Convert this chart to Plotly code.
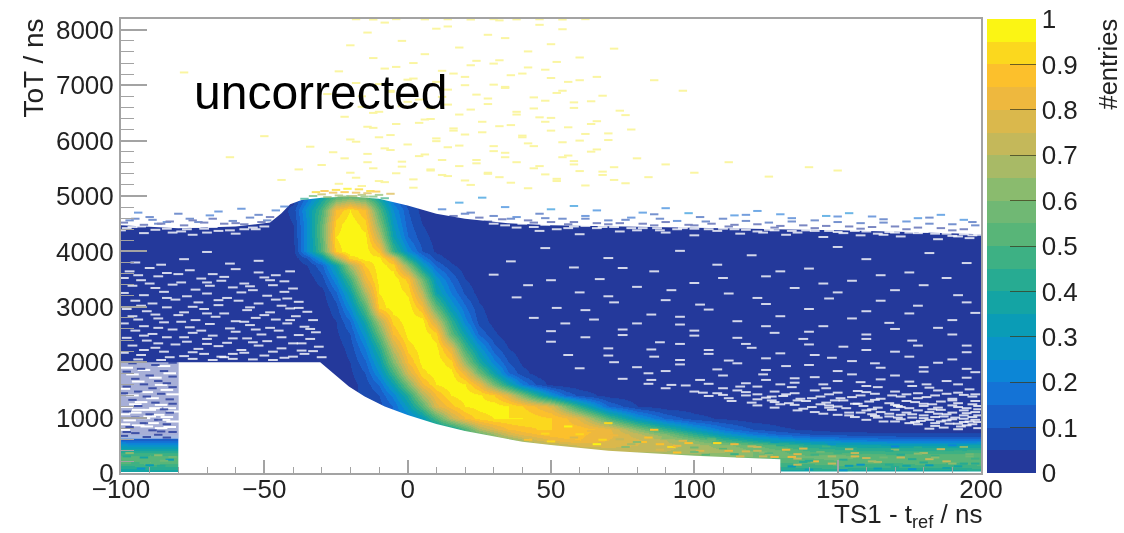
import plotly.graph_objects as go

tot_bins = [0,100,200,300,400,500,600,700,800,1000,1200,1400,1600,1800,2000,2250,2500,2750,3000,3250,3500,3750,3875,4000,4250,4500,4750,5000]
ts_bins = [-100,-90,-80,-60,-45,
           -40,-35,-30,-25,-20,-15,-10,-5,0,5,10,15,20,25,30,35,40,45,50,55,60,
           70,80,90,100,110,120,130,140,150,160,170,180,190,200]

# percent of maximum
r0000 = [32,33,34,34,34, 40,40,40,40,40,40,40,40,40,40,40,40,40,40,40,40,40,40,40,40,40, 40,40,40,40,40,40,34,34,34,32,32,32,32,34]
r0100 = [42,44,44,44,44, 50,50,50,50,50,50,50,50,50,50,50,50,50,50,50,50,50,50,50,50,50, 55,55,55,55,50,48,44,46,48,46,46,46,46,48]
r0200 = [52,55,52,52,52, 55,55,55,55,55,55,55,55,55,55,55,55,55,55,55,55,55,55,55,55,55, 58,58,58,58,55,52,50,52,54,52,50,54,50,54]
r0300 = [50,52,50,50,50, 60,60,60,60,60,60,60,60,60,60,60,60,60,60,60,60,60,60,60,60,60, 62,62,62,62,62,60,56,56,58,54,52,54,54,54]
r0400 = [42,42,42,42,42, 70,70,70,70,70,70,70,70,70,70,70,70,70,70,70,70,70,70,70,70,70, 70,72,70,68,66,60,56,50,48,46,46,46,46,48]
r0500 = [28,26,26,26,26, 65,65,65,65,65,65,65,65,65,65,65,65,65,65,65,65,65,65,68,72,76, 78,75,72,68,62,56,50,42,38,36,34,34,34,36]
r0600 = [15,14,14,14,14, 60,60,60,60,60,60,60,60,60,60,60,60,60,60,60,60,68,75,80,84,85, 80,76,70,60,48,38,30,25,22,20,18,17,17,18]
r0700 = [4,4,4,4,4, 50,50,50,50,50,50,50,50,50,50,50,50,50,55,65,75,82,85,88,88,86, 82,72,60,44,30,20,14,10,8,7,6,6,6,6]
r0800 = [2,2,2,2,2, 30,30,30,30,30,30,30,30,30,30,30,35,50,68,78,85,88,90,90,88,88, 82,62,45,30,18,10,6,4,2,2,2,2,2,2]
r1000 = [2,2,2,2,2, 15,15,15,15,15,15,15,15,20,30,50,72,85,92,95,95,95,92,90,86,78, 50,28,14,7,4,2,2,2,2,2,2,2,2,2]
r1200 = [2,2,2,2,2, 8,8,8,8,8,8,8,15,32,52,78,88,95,97,98,95,90,84,78,60,42, 15,5,2,2,2,2,2,2,2,2,2,2,2,2]
r1400 = [2,2,2,2,2, 5,5,5,5,5,5,10,22,42,68,85,95,98,96,90,78,60,42,27,15,8, 3,2,2,2,2,2,2,2,2,2,2,2,2,2]
r1600 = [2,2,2,2,2, 3,3,3,3,3,7,16,34,60,84,95,99,95,82,58,38,20,9,3,2,2, 2,2,2,2,2,2,2,2,2,2,2,2,2,2]
r1800 = [2,2,2,2,2, 2,2,2,2,4,10,25,48,76,93,98,97,82,58,35,16,7,3,2,2,2, 2,2,2,2,2,2,2,2,2,2,2,2,2,2]
r2000 = [2,2,2,2,2, 2,2,2,2,5,14,32,60,85,97,98,92,65,40,22,10,4,2,2,2,2, 2,2,2,2,2,2,2,2,2,2,2,2,2,2]
r2250 = [2,2,2,2,2, 2,2,2,2,7,20,42,72,92,98,97,80,48,28,12,5,2,2,2,2,2, 2,2,2,2,2,2,2,2,2,2,2,2,2,2]
r2500 = [2,2,2,2,2, 2,2,2,4,10,28,55,85,97,99,92,55,34,14,6,2,2,2,2,2,2, 2,2,2,2,2,2,2,2,2,2,2,2,2,2]
r2750 = [2,2,2,2,2, 2,2,2,5,15,38,68,92,98,98,75,45,22,8,3,2,2,2,2,2,2, 2,2,2,2,2,2,2,2,2,2,2,2,2,2]
r3000 = [2,2,2,2,2, 2,2,2,8,25,52,92,98,98,85,55,30,16,6,2,2,2,2,2,2,2, 2,2,2,2,2,2,2,2,2,2,2,2,2,2]
r3250 = [2,2,2,2,2, 2,2,3,14,35,68,95,99,94,72,36,20,9,3,2,2,2,2,2,2,2, 2,2,2,2,2,2,2,2,2,2,2,2,2,2]
r3500 = [2,2,2,2,2, 2,2,8,24,48,82,97,99,88,58,28,14,5,2,2,2,2,2,2,2,2, 2,2,2,2,2,2,2,2,2,2,2,2,2,2]
r3750 = [2,2,2,2,2, 2,5,14,36,68,90,98,92,62,32,14,6,2,2,2,2,2,2,2,2,2, 2,2,2,2,2,2,2,2,2,2,2,2,2,2]
r3875 = [2,2,2,2,2, 2,10,30,65,92,97,97,80,42,20,8,3,2,2,2,2,2,2,2,2,2, 2,2,2,2,2,2,2,2,2,2,2,2,2,2]
r4000 = [2,2,2,2,2, 3,25,52,92,99,98,88,48,24,10,4,2,2,2,2,2,2,2,2,2,2, 2,2,2,2,2,2,2,2,2,2,2,2,2,2]
r4250 = [2,2,2,2,2, 4,25,55,95,99,97,72,35,15,7,3,2,2,2,2,2,2,2,2,2,2, 2,2,2,2,2,2,2,2,2,2,2,2,2,2]
r4500 = [2,2,2,2,2, 5,25,55,92,99,92,62,30,12,5,2,2,2,2,2,2,2,2,2,2,2, 2,2,2,2,2,2,2,2,2,2,2,2,2,2]
r4750 = [2,2,2,2,2, 7,28,50,85,95,85,52,25,10,3,2,2,2,2,2,2,2,2,2,2,2, 2,2,2,2,2,2,2,2,2,2,2,2,2,2]
r5000 = [2,2,2,2,2, 2,15,35,50,55,50,35,15,5,2,2,2,2,2,2,2,2,2,2,2,2, 2,2,2,2,2,2,2,2,2,2,2,2,2,2]
entries_rows = [r0000,r0100,r0200,r0300,r0400,r0500,r0600,r0700,r0800,r1000,r1200,r1400,r1600,r1800,
                r2000,r2250,r2500,r2750,r3000,r3250,r3500,r3750,r3875,r4000,r4250,r4500,r4750,r5000]

band_colors = ["#24399b","#1c4bb0","#1a5fc8","#1473d6","#0c86d6","#0a94c8","#0a9cb6","#14a4a4","#27ab92","#3db184",
               "#58b578","#70b874","#8abb6e","#a8ba66","#c4b85a","#dab84c","#eeb83e","#fcc02c","#fbd81e","#fbf514"]

lower_edge_x = [-100,-100,-80,-80,-30.5,-26,-20.5,-15,-8,0,10,20,30,40,50,70,100,130,130,200,200]
lower_edge_y = [0,20,20,2000,2000,1800,1560,1380,1200,1047,885,758,655,565,505,403,312,247,25,25,0]
upper_edge_x = [-100,-80,-60,-48,-44,-41,-37,-30,-20,-10,0,10,20,35,50,75,100,125,150,175,200,200,-100]
upper_edge_y = [4470,4420,4450,4520,4690,4850,4930,4970,4990,4950,4830,4680,4590,4510,4470,4450,4420,4400,4380,4350,4310,5400,5400]
sparse_low_x = [-100,-80,-80,-100]
sparse_low_y = [620,620,2000,2000]

holes_left = [(-97,3640),(-90,3700),(-84,3610),(-76,3660),(-68,3590),(-60,3680),(-52,3620),(-46,3570),(-41,3640),
(-99,3520),(-93,3480),(-87,3550),(-79,3440),(-72,3510),(-65,3470),(-57,3420),(-50,3530),(-43,3460),
(-96,3380),(-88,3340),(-82,3400),(-74,3310),(-69,3380),(-61,3350),(-54,3300),(-47,3390),(-40,3330),
(-99,3250),(-92,3210),(-85,3270),(-77,3190),(-70,3240),(-63,3160),(-58,3260),(-49,3200),(-42,3150),
(-95,3110),(-89,3060),(-81,3130),(-73,3080),(-66,3030),(-59,3110),(-52,3060),(-44,3020),(-38,3090),
(-98,2960),(-91,2920),(-84,2990),(-78,2900),(-71,2960),(-64,2880),(-56,2940),(-48,2900),(-41,2970),(-35,2910),
(-96,2830),(-87,2790),(-80,2850),(-74,2760),(-67,2820),(-60,2740),(-53,2800),(-46,2770),(-39,2830),(-33,2760),
(-99,2700),(-92,2650),(-85,2720),(-76,2630),(-69,2690),(-62,2610),(-55,2670),(-48,2620),(-42,2700),(-36,2640),
(-95,2570),(-89,2510),(-82,2590),(-75,2530),(-68,2480),(-60,2550),(-51,2500),(-45,2570),(-38,2490),(-32,2540),
(-98,2440),(-91,2390),(-84,2450),(-77,2370),(-70,2420),(-63,2350),(-56,2430),(-49,2380),(-40,2340),(-34,2420),
(-96,2300),(-88,2260),(-81,2320),(-73,2240),(-66,2290),(-58,2220),(-52,2300),(-44,2250),(-37,2210),(-31,2280),
(-99,2170),(-93,2130),(-85,2190),(-78,2110),(-71,2150),(-64,2090),(-57,2170),(-50,2120),(-43,2080),(-36,2150),(-30,2090),
(-94,2050),(-86,2040),(-75,2060),(-68,2040),(-61,2060),(-54,2050),(-47,2040),
(-70,3990),(-86,3760),(-52,3830),(-62,3780),(-78,3860),(-95,3800),
(-94,3570),(-80,3590),(-64,3540),(-48,3480),(-90,3420),(-70,3440),(-55,3370),(-43,3270),(-84,3160),(-66,3120),(-46,3130),(-93,3020),(-75,3000),(-55,2990),(-38,2980),
(-88,2860),(-70,2880),(-50,2850),(-94,2770),(-79,2730),(-57,2730),(-41,2760),(-87,2620),(-72,2570),(-53,2590),(-34,2600),(-92,2480),(-78,2450),(-61,2430),(-44,2450),(-87,2340),(-70,2330),(-54,2360),(-37,2340),(-92,2220),(-75,2180),(-61,2150),(-47,2190),(-33,2200),(-83,2090),(-65,2100),(-40,2100)]

holes_right = [(48,4060),(95,4010),(150,4080),(182,3970),(120,3930),(70,3880),(160,3860),(36,3820),(195,3790),(108,3760),
(58,3710),(140,3690),(86,3640),(175,3620),(30,3580),(125,3550),(67,3500),(188,3520),(155,3470),(100,3430),
(42,3390),(80,3360),(135,3340),(170,3300),(60,3260),(112,3240),(192,3210),(38,3170),(147,3150),(90,3120),
(72,3080),(125,3050),(178,3020),(52,2980),(105,2950),(160,2920),(198,2890),(85,2860),(130,2830),(44,2800),
(65,2770),(115,2740),(168,2710),(95,2680),(145,2650),(185,2620),(75,2590),(50,2560),(128,2530),(160,2500),
(100,2480),(62,2450),(138,2420),(176,2390),(88,2360),(118,2330),(195,2300),(152,2280),(70,2250),(105,2220),
(170,2190),(130,2160),(56,2130),(86,2100),(148,2080),(190,2050),(112,2030),(72,2000),(163,1980),(95,1960),
(132,1930),(180,1910),(60,1890),(108,1870),(150,1840),(198,1820),(84,1800),(124,1780),(170,1760),(142,1730),
(75,1700),(102,1680),(188,1660),(158,1640),(118,1620),(92,1590),(176,1570),(134,1550),(110,1530),(196,1510),
(75,3700),(130,3640),(165,3570),(50,3480),(110,3520),(145,3420),(180,3390),(92,3300),(150,3260),(70,3190),(122,3160),(165,3110),(195,3080),(102,3040),(62,2940),(140,2960),(175,2880),(95,2820),(155,2790),(190,2760),
(55,2700),(80,2700),(125,2650),(170,2600),(100,2570),(140,2550),(190,2500),(75,2490),(115,2440),(160,2420),(50,2370),(95,2330),(140,2320),(178,2300),(120,2260),(85,2230),(160,2220),(195,2180),(105,2150),(142,2130),
(70,2120),(175,2100),(125,2070),(95,2040),(155,2020),(185,1990),(115,1980),(140,1950),(80,1910),(165,1900),(195,1880),(125,1860),(90,1840),(180,1830),(155,1780),(110,1760),(135,1710),(195,1720),(165,1690),(85,1680),
(125,1680),(150,1660),(175,1650),(105,1610),(145,1600),(192,1600),(135,1630),(160,1570),(122,1560),(182,1540)]

holes_low = [(100,1470),(108,1440),(115,1490),(122,1420),(128,1470),(135,1440),(142,1490),(150,1450),(157,1480),(163,1430),(170,1470),(178,1440),(185,1490),(192,1450),(198,1420),
(105,1390),(112,1350),(118,1400),(125,1360),(131,1390),(137,1340),(144,1380),(151,1350),(158,1400),(165,1340),(172,1380),(178,1350),(184,1400),(190,1340),(197,1380),
(113,1300),(120,1270),(127,1310),(133,1260),(139,1300),(146,1270),(152,1310),(156,1250),(161,1290),(168,1260),(174,1300),(180,1250),(186,1290),(192,1260),(198,1300),
(122,1220),(128,1180),(135,1230),(141,1190),(147,1220),(153,1170),(159,1210),(164,1180),(170,1230),(175,1170),(180,1210),(185,1180),(190,1220),(195,1170),(199,1210),
(136,1130),(142,1100),(148,1140),(154,1090),(160,1130),(165,1100),(170,1140),(174,1090),(178,1130),(182,1100),(186,1140),(190,1090),(194,1130),(198,1100),
(150,1050),(156,1010),(162,1060),(168,1020),(172,1050),(176,1000),(180,1040),(184,1010),(188,1060),(191,1000),(194,1040),(197,1010),
(160,960),(166,930),(172,970),(177,920),(182,960),(186,930),(190,970),(194,920),(198,960),
(178,880),(184,850),(189,890),(193,840),(197,880),(199,810),(192,790),
(90,1530),(97,1580),(84,1610),(146,1530),(130,1600),(164,1550),(181,1600),(116,1560),
(103,1450),(118,1460),(132,1420),(147,1420),(160,1460),(174,1420),(188,1430),(110,1410),(127,1380),(141,1350),(155,1370),(169,1400),(181,1370),(194,1410),(122,1330),(136,1310),(149,1310),(163,1320),(177,1280),(190,1310),
(130,1240),(144,1240),(157,1250),(171,1210),(183,1240),(197,1240),(138,1160),(150,1200),(162,1150),(172,1190),(183,1150),(192,1190),(199,1150),(145,1070),(158,1090),(168,1070),(176,1060),(185,1070),(195,1080),(154,1040),
(164,1000),(171,1000),(180,990),(187,1020),(194,980),(199,1040),(170,930),(179,940),(188,950),(196,930),(175,900),(184,900),(192,890),(199,920),(187,820),(182,800),(195,860),(163,1030),(147,1180),(128,1280)]

holes_top = [(-98,4420),(-88,4390),(-79,4360),(-71,4410),(-62,4380),(-54,4430),(-92,4330),(-75,4300),
(38,4430),(52,4400),(66,4420),(80,4380),(94,4400),(108,4370),(122,4360),(136,4340),(150,4350),(164,4320),(178,4330),(192,4270),
(60,4310),(100,4290),(145,4260),(185,4220),
(-96,4440),(-84,4410),(-74,4440),(-66,4370),(-57,4400),(-50,4450),(-100,4380),(-82,4340),(-60,4320),(-70,4340),
(34,4470),(44,4440),(58,4450),(72,4440),(87,4420),(100,4410),(114,4400),(128,4380),(142,4370),(156,4370),(170,4340),(184,4320),(197,4290),
(46,4370),(74,4360),(90,4340),(116,4320),(132,4300),(158,4290),(172,4270),(196,4240),(40,4500),(48,4480),(62,4460),
(-93,4450),(-77,4400),(-68,4440),(-53,4400),(30,4500),(56,4420),(68,4440),(82,4420),(96,4420),(105,4400),(118,4390),(126,4390),(139,4380),(147,4370),(160,4360),(168,4350),(175,4340),(188,4320),(194,4310),(199,4300),
(78,4420),(110,4410),(134,4370),(152,4330),(180,4350),(88,4380),(124,4340),(166,4300),(190,4280)]

patch_white = [(-98,1900),(-92,1860),(-85,1930),(-96,1780),(-88,1720),(-83,1800),(-94,1650),(-86,1590),(-99,1520),(-91,1460),(-84,1500),(-96,1400),
(-89,1350),(-82,1420),(-93,1280),(-86,1230),(-98,1190),(-90,1140),(-83,1170),(-95,1090),(-87,1050),(-92,990),(-84,1010),(-97,950),(-89,900),(-82,930),(-94,860),(-86,810),(-99,780),
(-95,1240),(-88,1170),(-82,1110),(-99,1060),(-90,1020),(-94,1140),(-85,960),(-99,880),(-91,840),(-83,830)]
patch_blue = [(-96,1980),(-88,1950),(-82,1990),(-93,1880),(-85,1840),(-98,1830),(-90,1760),(-82,1740),(-95,1700),(-87,1660),(-92,1600),(-84,1620),(-98,1560),(-89,1530),(-82,1550),
(-94,1470),(-86,1430),(-99,1440),(-91,1380),(-83,1330),(-96,1320),(-88,1270),(-82,1250),(-94,1210),(-85,1150),(-98,1110),(-90,1060),(-83,1090),(-95,1000),(-87,960),(-92,900),(-84,880),
(-97,830),(-89,770),(-82,740),(-95,720),(-87,690),(-99,670),(-91,650),(-84,640),(-97,2010),(-90,2040),(-98,740),(-86,750)]

rag_x = [-97,-90,-84,-76,-69,-61,-55,-49,-94,-80,-66,-52,-58,-87,-73,12,22,30,38,46,54,62,70,78,86,94,102,110,118,126,134,142,150,158,166,174,182,190,197,
         18,34,50,66,82,98,114,130,146,162,178,194,26,58,90,122,154,186,-46,-43,
         -99,-92,-86,-78,-71,-64,-57,-51,-95,-83,-68,-60,-89,-75,-48,
         16,25,33,42,50,58,66,74,82,90,98,106,114,122,130,138,146,154,162,170,178,186,194,
         20,36,48,62,76,88,104,118,134,150,166,182,198,
         28,44,56,70,86,100,112,128,142,158,174,190]
rag_y = [4560,4620,4530,4590,4650,4550,4610,4560,4700,4680,4720,4660,4770,4500,4530,4760,4700,4640,4620,4680,4590,4640,4560,4610,4670,4550,4620,4590,4660,4520,4600,4560,4630,4510,4580,4540,4610,4490,4530,
         4880,4800,4760,4740,4700,4690,4650,4670,4640,4630,4600,4570,4970,4820,4780,4730,4690,4660,4740,4810,
         4520,4480,4500,4470,4520,4500,4490,4530,4590,4540,4590,4510,4570,4560,4620,
         4640,4610,4580,4560,4530,4530,4510,4510,4500,4530,4480,4500,4480,4490,4460,4470,4460,4450,4440,4450,4430,4420,4400,
         4680,4590,4600,4590,4570,4590,4540,4550,4540,4530,4520,4500,4470,
         4540,4520,4490,4490,4470,4470,4450,4430,4420,4410,4400,4380]
rag_v = [8,5,10,5,12,5,8,5,14,5,10,5,12,5,8,14,8,5,12,5,8,14,5,10,8,14,5,8,12,5,10,5,14,8,5,10,8,5,8,
         20,16,20,18,16,20,18,16,22,14,18,16,22,20,16,18,22,16,10,14,
         3,3,4,3,3,4,3,3,6,3,4,3,6,4,3,
         3,4,3,3,4,3,3,4,3,3,4,3,3,4,3,3,4,3,3,4,3,3,4,
         8,5,8,5,8,5,8,5,8,5,8,5,8,
         3,3,3,3,3,3,3,3,3,3,3,3]

crest_x = [-36,-33,-30,-28,-26,-24,-22,-20,-18,-16,-14,-12,-10,-8,-25,-21,-17,-13,-29,-23,-19,-15,-32,-11,-6]
crest_y = [4950,5000,5030,4980,5060,5010,5070,5000,5060,5020,5050,4990,5020,4960,5110,5130,5120,5090,5090,4990,5000,4990,5070,5080,5040]
crest_v = [40,55,70,60,80,65,85,60,80,65,75,55,60,45,92,95,92,90,88,60,65,60,90,85,75]

far_x = [-24,-18,-10,-4,2,8,14,20,28,36,44,52,60,68,76,84,-30,-14,-2,12,24,34,46,58,72,90,-26,-8,6,18,30,42,56,66,80,-20,-6,10,26,40,54,70,-34,-12,4,16,32,48,62,78,
         -22,-10,8,22,38,50,64,-16,0,14,28,44,58,74,-28,-6,12,34,52,68,-18,2,20,36,56,-24,-4,16,30,48,66,86,-12,6,24,42,60,-20,-2,18,34,50,72,-14,10,28,46,-8,14,32,54,
         -38,-44,100,112,126,140,-50,-62,-78,150,96,
         -16,-8,2,12,22,32,42,52,62,72,-20,-12,-2,8,18,28,38,48,58,68,-22,-14,-6,4,14,24,34,44,54,64,-18,-10,0,10,20,30,40,50,60,70,-14,-4,6,16,26,36,46,56,66,76,
         -12,-2,8,18,28,38,48,58,-16,-6,4,14,24,34,44,54,64,-10,0,10,20,30,40,50,60,-8,2,12,22,32,42,52,
         -18,-12,-4,6,14,22,30,38,46,54,62]
far_y = [5220,5330,5270,5410,5300,5460,5360,5280,5420,5240,5500,5310,5450,5380,5230,5340,5560,5610,5530,5650,5590,5700,5540,5630,5520,5570,5790,5860,5750,5910,5810,5950,5730,5840,5680,6020,6100,5990,6150,6060,5970,6010,
         5890,6230,6320,6180,6260,6340,6120,6200,6430,6520,6390,6560,6470,6410,6300,6610,6700,6650,6760,6580,6690,6540,6840,6900,6790,6950,6860,6810,7040,7120,7000,7180,7060,7250,7330,7210,7390,7280,7150,7090,7490,7560,7440,7610,7500,7720,7800,7680,7850,7740,7660,7950,8020,7910,8090,8130,8060,8170,8010,
         5480,5290,5420,5610,5350,5520,6080,5700,7230,5460,6900,
         5180,5250,5150,5380,5200,5340,5140,5270,5190,5290,5420,5500,5620,5480,5540,5400,5610,5390,5570,5440,5680,5760,5830,5720,5880,5650,5780,5900,5700,5800,
         5980,6060,5930,6040,6110,5900,6090,6180,6000,6130,6250,6300,6380,6220,6340,6280,6420,6240,6350,6460,
         6500,6620,6580,6470,6660,6520,6720,6590,6800,6880,6740,6920,6830,6970,6780,6900,6710,7020,7100,7060,7150,7010,7210,7130,7090,7300,7400,7260,7360,7450,7320,7420,
         8190,8185,8192,8188,8190,8185,8192,8188,8190,8185,8192]

tail_x = [42,50,58,66,74,82,90,98,106,114,122,130,138,146,154,162,170,178,186,194,
          60,72,84,96,108,120,132,144,156,168,180,192,
          76,88,100,112,124,136,148,160,172,184,196,
          94,104,116,126,136,142,152,164,176,188,198,
          86,106,128,148,170,190,
          -97,-92,-87,-83,-95,-90,-85,-98,-93,-86,-82,
          134,146,158,170,182,194,140,152,164,176,188,
          64,78,92,48,110,122,56,70,
          68,80,94,110,118,126,134,150,160,172,182,196,102,114,128,138,156,168,178,190,
          88,100,124,140,148,166,174,184,198,136,142,154,162,180,192]
tail_y = [600,570,640,520,610,560,630,540,600,520,470,500,440,480,430,470,420,460,430,470,
          700,680,640,580,540,480,420,380,360,400,360,390,
          470,420,460,400,370,340,300,330,280,310,340,
          370,330,300,350,260,210,240,200,250,210,260,
          780,620,560,520,480,500,
          360,280,320,240,180,140,220,300,80,130,290,
          120,90,150,110,140,170,60,50,80,70,90,
          760,520,470,710,440,400,840,900,
          600,560,490,440,390,330,290,360,270,330,250,300,400,340,290,200,300,150,350,170,
          520,380,300,220,170,280,130,280,170,150,330,130,210,190,120]
tail_v = [85,92,78,95,72,86,60,88,55,82,70,40,78,45,68,35,60,40,70,62,
          92,80,88,75,90,72,82,58,72,42,66,48,
          62,78,58,82,60,78,68,50,72,46,56,
          85,52,78,48,70,82,44,68,42,74,48,
          85,50,30,28,22,20,
          60,38,62,34,48,30,58,40,28,42,55,
          30,48,26,42,30,44,32,26,34,28,36,
          82,68,92,92,80,70,95,90,
          90,62,82,52,78,60,82,48,70,42,72,55,78,48,84,44,76,40,60,64,
          88,58,72,42,74,58,38,62,40,70,48,34,66,44,38]

colorbar_ticks = [0,0.1,0.2,0.3,0.4,0.5,0.6,0.7,0.8,0.9,1]

scale = []
for i, c in enumerate(band_colors):
    scale.append([i / len(band_colors), c])
    scale.append([(i + 1) / len(band_colors), c])

FONT = "Liberation Sans"
INK = "#222222"
GREY = "#a3a3a3"
PX = lambda x: (x - 121) / 860
PY = lambda y: (473 - y) / 454

fig = go.Figure()
fig.add_trace(go.Heatmap(
    x=ts_bins, y=tot_bins, z=[[v / 100 for v in row] for row in entries_rows],
    zmin=0, zmax=1, zsmooth="best", colorscale=scale, hoverinfo="skip",
    colorbar=dict(x=PX(987), xref="paper", xanchor="left", y=0.5, yref="paper", yanchor="middle", len=1, lenmode="fraction",
                  thickness=49, thicknessmode="pixels", xpad=0, ypad=0, outlinewidth=0,
                  tickmode="array", tickvals=colorbar_ticks, ticktext=["0","0.1","0.2","0.3","0.4","0.5","0.6","0.7","0.8","0.9","1"],
                  ticks="inside", ticklen=26, tickwidth=1, tickcolor="rgba(60,60,30,0.75)",
                  tickfont=dict(family=FONT, size=26, color=INK)),
))

def poly(xs, ys, color):
    fig.add_trace(go.Scatter(x=xs, y=ys, mode="lines", fill="toself", fillcolor=color,
                             line=dict(width=0), hoverinfo="skip", showlegend=False))

def dashes(xs, ys, color, width=2, size=6, opacity=1.0):
    fig.add_trace(go.Scatter(x=xs, y=ys, mode="markers", hoverinfo="skip", showlegend=False, opacity=opacity,
                             marker=dict(symbol="line-ew", size=size, line=dict(color=color, width=width))))

def valued(xs, ys, vals, width=2, size=6, opacity=1.0):
    n = min(len(xs), len(ys), len(vals))
    fig.add_trace(go.Scatter(x=xs[:n], y=ys[:n], mode="markers", hoverinfo="skip", showlegend=False, opacity=opacity,
                             marker=dict(symbol="line-ew", size=size,
                                         line=dict(color=[v / 100 for v in vals[:n]], colorscale=scale, cmin=0, cmax=1, width=width))))

poly(lower_edge_x, lower_edge_y, "white")
poly(upper_edge_x, upper_edge_y, "white")
poly(sparse_low_x, sparse_low_y, "rgba(255,255,255,0.6)")

holes = holes_left + holes_right + holes_low + holes_top
dashes([p[0] for p in holes], [p[1] for p in holes], "rgba(255,255,255,0.8)", size=7)
dashes([p[0] for p in patch_white], [p[1] for p in patch_white], "white", size=9)
dashes([p[0] for p in patch_blue], [p[1] for p in patch_blue], "#24399b", opacity=0.8)
valued(tail_x, tail_y, tail_v)
valued(rag_x, rag_y, rag_v, opacity=0.6)
valued(crest_x, crest_y, crest_v, opacity=0.7)
n_far = min(len(far_x), len(far_y))
dashes(far_x[:n_far], far_y[:n_far], "#f8f070", opacity=0.65)

fig.add_annotation(x=PX(192), y=PY(92), xref="paper", yref="paper", text="uncorrected", showarrow=False,
                   xanchor="left", yanchor="middle", font=dict(family=FONT, size=48, color="black"))
fig.update_layout(
    width=1124, height=533, margin=dict(l=121, r=143, t=19, b=60, autoexpand=False), paper_bgcolor="white", plot_bgcolor="white",
    showlegend=False, font=dict(family=FONT, color=INK),
    xaxis=dict(range=[-100,200], tickmode="array", tickvals=[-100,-50,0,50,100,150,200], ticktext=["\u2212100","\u221250","0","50","100","150","200"],
               ticks="inside", ticklen=13, tickwidth=1.5, tickcolor=GREY, ticklabelstandoff=-8,
               minor=dict(tickmode="linear", tick0=0, dtick=10, ticks="inside", ticklen=6, tickwidth=1, tickcolor=GREY),
               showgrid=False, zeroline=False, showline=True, linecolor=GREY, linewidth=2, mirror=True,
               tickfont=dict(family=FONT, size=26, color=INK)),
    yaxis=dict(range=[0,8195], tickmode="array", tickvals=[0,1000,2000,3000,4000,5000,6000,7000,8000],
               ticks="inside", ticklen=26, tickwidth=1.5, tickcolor=GREY,
               minor=dict(tickmode="linear", tick0=0, dtick=200, ticks="inside", ticklen=13, tickwidth=1, tickcolor=GREY),
               showgrid=False, zeroline=False, showline=True, linecolor=GREY, linewidth=2, mirror=True,
               tickfont=dict(family=FONT, size=26, color=INK), tickformat="d"),
)
fig.add_annotation(x=PX(33), y=PY(17), xref="paper", yref="paper", text="ToT / ns", textangle=-90, showarrow=False,
                   xanchor="center", yanchor="top", font=dict(family=FONT, size=28, color=INK))
fig.add_annotation(x=PX(984), y=PY(515), xref="paper", yref="paper", text="TS1 - t<sub>ref</sub> / ns", showarrow=False,
                   xanchor="right", yanchor="middle", font=dict(family=FONT, size=26, color=INK))
fig.add_annotation(x=PX(1108), y=PY(17), xref="paper", yref="paper", text="#entries", textangle=-90, showarrow=False,
                   xanchor="center", yanchor="top", font=dict(family=FONT, size=25.5, color=INK))

fig.write_html("out.html",
               post_script="document.body.style.margin='0';document.querySelectorAll('.main-svg').forEach(function(s){s.style.filter='blur(0.5px)';});",
               config={"displayModeBar": False})
